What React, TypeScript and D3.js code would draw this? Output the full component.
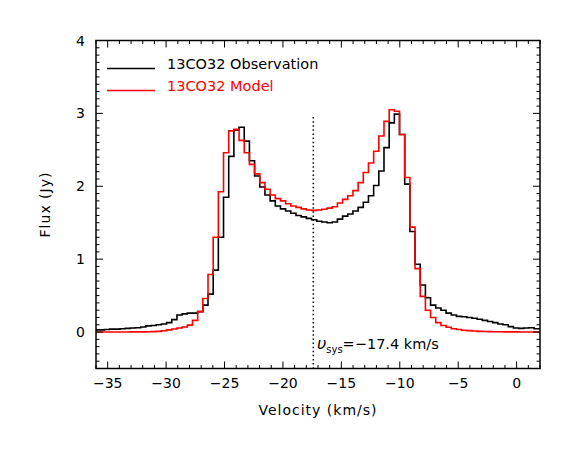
import React from 'react';
import * as d3 from 'd3';

// spectral channel grid (km/s): left edge of the first channel and channel width
const CHANNEL_START = -36.16;
const CHANNEL_WIDTH = 0.443;

// 13CO 3-2 observed flux per channel (Jy)
const observedFlux = [
  0.03, 0.03, 0.035, 0.04, 0.04, 0.045, 0.05, 0.055, 0.06, 0.07,
  0.085, 0.09, 0.10, 0.11, 0.13, 0.17, 0.235, 0.25, 0.26, 0.26,
  0.28, 0.37, 0.52, 0.85, 1.30, 1.85, 2.41, 2.77, 2.81, 2.62,
  2.35, 2.14, 1.99, 1.88, 1.80, 1.73, 1.69, 1.66, 1.63, 1.60,
  1.58, 1.56, 1.54, 1.52, 1.51, 1.50, 1.51, 1.55, 1.59, 1.62,
  1.66, 1.71, 1.78, 1.87, 2.01, 2.21, 2.53, 2.87, 2.99, 2.71,
  2.03, 1.38, 0.93, 0.645, 0.47, 0.37, 0.33, 0.30, 0.26, 0.235,
  0.215, 0.21, 0.20, 0.19, 0.175, 0.16, 0.145, 0.13, 0.11, 0.10,
  0.075, 0.055, 0.05, 0.055, 0.06, 0.045, 0.045,
];

// model flux per channel (Jy)
const modelFlux = [
  0, 0, 0, 0, 0, 0, 0.001, 0.002, 0.002, 0.003,
  0.004, 0.006, 0.01, 0.018, 0.03, 0.042, 0.055, 0.07, 0.095, 0.16,
  0.28, 0.46, 0.79, 1.30, 1.925, 2.46, 2.76, 2.78, 2.63, 2.46,
  2.30, 2.17, 2.05, 1.96, 1.88, 1.83, 1.80, 1.76, 1.73, 1.71,
  1.69, 1.675, 1.67, 1.675, 1.685, 1.70, 1.72, 1.77, 1.82, 1.87,
  1.94, 2.05, 2.19, 2.32, 2.48, 2.69, 2.89, 3.05, 3.03, 2.71,
  2.12, 1.44, 0.87, 0.49, 0.30, 0.20, 0.13, 0.09, 0.065, 0.045,
  0.035, 0.025, 0.02, 0.015, 0.01, 0.008, 0.006, 0.005, 0.004, 0.003,
  0.002, 0.002, 0.001, 0.001, 0, 0, 0,
];

const seriesNames = ['13CO32 Observation', '13CO32 Model'];
const seriesColors = ['#000000', '#ff0000'];

const xTicks = [-35, -30, -25, -20, -15, -10, -5, 0];
const yTicks = [0, 1, 2, 3, 4];
const X_DOMAIN = [-36, 2];
const Y_DOMAIN = [-0.5, 4];

const V_SYS = -17.4;
const VSYS_LINE_TOP = 2.95;

const W = 581;
const H = 449;
const plot = { left: 96, right: 540, top: 40.5, bottom: 368.5 };
const FONT = '"DejaVu Sans", "Liberation Sans", Arial, sans-serif';

const toSteps = (vals: number[]) => {
  const pts: [number, number][] = vals.map((f, i) => [CHANNEL_START + i * CHANNEL_WIDTH, f]);
  pts.push([CHANNEL_START + vals.length * CHANNEL_WIDTH, vals[vals.length - 1]]);
  return pts;
};

export default function App() {
  const x = d3.scaleLinear().domain(X_DOMAIN).range([plot.left, plot.right]);
  const y = d3.scaleLinear().domain(Y_DOMAIN).range([plot.bottom, plot.top]);

  const line = d3.line<[number, number]>()
    .x(d => x(d[0]))
    .y(d => y(d[1]))
    .curve(d3.curveStepAfter);

  // minor ticks every 1 km/s and every 0.1 Jy
  const xMinor = d3.range(X_DOMAIN[0], X_DOMAIN[1] + 0.001, 1).filter(v => Math.round(v) % 5 !== 0);
  const yMinor = d3.range(-4, 41, 1).map(v => v / 10).filter(v => Math.round(v * 10) % 10 !== 0);

  const MAJ = 7;
  const MIN = 3.5;

  return (
    <div style={{ position: 'absolute', left: 0, top: 0 }}>
      <svg width={W} height={H} style={{ display: 'block', background: '#fff' }} fontFamily={FONT}>
        <defs>
          <clipPath id="plot-clip">
            <rect x={plot.left} y={plot.top} width={plot.right - plot.left} height={plot.bottom - plot.top} />
          </clipPath>
        </defs>

        {/* spectra */}
        <g clipPath="url(#plot-clip)" fill="none" strokeWidth={1.6} strokeLinejoin="miter">
          <path d={line(toSteps(observedFlux)) || ''} stroke={seriesColors[0]} />
          <path d={line(toSteps(modelFlux)) || ''} stroke={seriesColors[1]} />
        </g>

        {/* systemic velocity */}
        <line x1={x(V_SYS)} x2={x(V_SYS)} y1={y(VSYS_LINE_TOP)} y2={plot.bottom}
          stroke="#000" strokeWidth={1.5} strokeDasharray="1.5,2.6" />
        <text x={317} y={349} fontSize={14.5} fill="#000">
          <tspan fontStyle="italic" fontSize={16}>υ</tspan>
          <tspan fontSize={10} dy={4}>sys</tspan>
          <tspan dy={-4}>=−17.4 km/s</tspan>
        </text>

        {/* ticks */}
        <g stroke="#000" strokeWidth={1}>
          {xMinor.map(v => (
            <g key={'xm' + v}>
              <line x1={x(v)} x2={x(v)} y1={plot.bottom} y2={plot.bottom - MIN} />
              <line x1={x(v)} x2={x(v)} y1={plot.top} y2={plot.top + MIN} />
            </g>
          ))}
          {xTicks.map(v => (
            <g key={'xM' + v}>
              <line x1={x(v)} x2={x(v)} y1={plot.bottom} y2={plot.bottom - MAJ} />
              <line x1={x(v)} x2={x(v)} y1={plot.top} y2={plot.top + MAJ} />
            </g>
          ))}
          {yMinor.map(v => (
            <g key={'ym' + v}>
              <line x1={plot.left} x2={plot.left + MIN} y1={y(v)} y2={y(v)} />
              <line x1={plot.right} x2={plot.right - MIN} y1={y(v)} y2={y(v)} />
            </g>
          ))}
          {yTicks.map(v => (
            <g key={'yM' + v}>
              <line x1={plot.left} x2={plot.left + MAJ} y1={y(v)} y2={y(v)} />
              <line x1={plot.right} x2={plot.right - MAJ} y1={y(v)} y2={y(v)} />
            </g>
          ))}
        </g>

        {/* frame */}
        <rect x={plot.left} y={plot.top} width={plot.right - plot.left} height={plot.bottom - plot.top}
          fill="none" stroke="#000" strokeWidth={1.5} />

        {/* tick labels */}
        <g fontSize={14} fill="#000">
          {xTicks.map(v => (
            <text key={'xl' + v} x={x(v)} y={387.5} textAnchor="middle">
              {v < 0 ? '−' + Math.abs(v) : String(v)}
            </text>
          ))}
          {yTicks.map(v => (
            <text key={'yl' + v} x={85} y={y(v) + 5} textAnchor="end">{v}</text>
          ))}
        </g>

        {/* axis titles */}
        <text x={(plot.left + plot.right) / 2} y={415} textAnchor="middle" fontSize={14} letterSpacing={1}>
          Velocity (km/s)
        </text>
        <text transform={`translate(50, ${(plot.top + plot.bottom) / 2}) rotate(-90)`} textAnchor="middle"
          fontSize={14} letterSpacing={1}>
          Flux (Jy)
        </text>

        {/* legend */}
        {seriesNames.map((name, i) => (
          <g key={name}>
            <line x1={107} x2={155} y1={68.5 + i * 22} y2={68.5 + i * 22} stroke={seriesColors[i]} strokeWidth={1.5} />
            <text x={167} y={69 + i * 22} fontSize={14.5} fill={seriesColors[i]}>{name}</text>
          </g>
        ))}
      </svg>
    </div>
  );
}
